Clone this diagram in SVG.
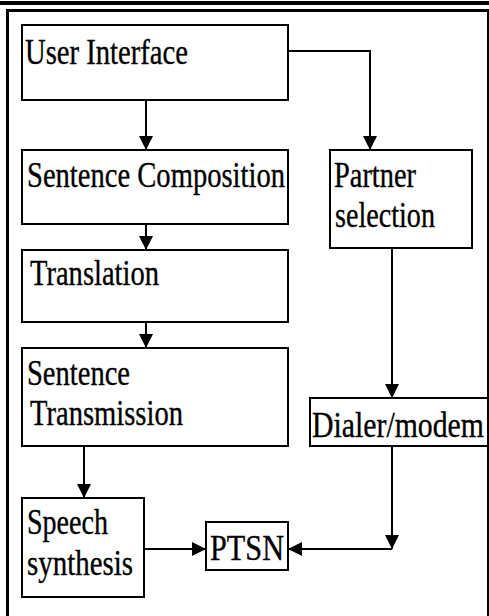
<svg xmlns="http://www.w3.org/2000/svg" width="489" height="616" viewBox="0 0 489 616">
  <style>
    .box { fill: #fff; stroke: #000; stroke-width: 2; }
    .lbl { font-family: 'Liberation Serif', 'Times New Roman', Times, serif; font-size: 36px; fill: #000; stroke: #000; stroke-width: 0.35; }
    .wire { fill: none; stroke: #000; stroke-width: 2; }
  </style>
  <defs>
    <marker id="arrow" markerUnits="userSpaceOnUse" markerWidth="15" markerHeight="14" refX="14" refY="7" orient="auto">
      <path d="M0,0 L14,7 L0,14 z" fill="#000"/>
    </marker>
  </defs>

  <rect width="489" height="616" fill="#fff"/>

  <!-- page frame -->
  <g id="frame" fill="#000">
    <rect x="0" y="1" width="489" height="4"/>
    <rect x="6" y="9" width="483" height="3"/>
    <rect x="6" y="9" width="3" height="607"/>
    <rect x="487" y="9" width="2" height="607"/>
  </g>

  <g id="connectors">
    <path class="wire" d="M146,100 V150" marker-end="url(#arrow)"/>
    <path class="wire" d="M288,51 H370 V150" marker-end="url(#arrow)"/>
    <path class="wire" d="M146,224 V250" marker-end="url(#arrow)"/>
    <path class="wire" d="M146,322 V348" marker-end="url(#arrow)"/>
    <path class="wire" d="M392,248 V398" marker-end="url(#arrow)"/>
    <path class="wire" d="M84,446 V498" marker-end="url(#arrow)"/>
    <path class="wire" d="M144,549 H206" marker-end="url(#arrow)"/>
    <path class="wire" d="M392,446 V549" marker-end="url(#arrow)"/>
    <path class="wire" d="M392,549 H288" marker-end="url(#arrow)"/>
  </g>

  <g id="user-interface">
    <rect class="box" x="22" y="25" width="266" height="75"/>
    <text class="lbl" x="25" y="64" textLength="163" lengthAdjust="spacingAndGlyphs">User Interface</text>
  </g>

  <g id="sentence-composition">
    <rect class="box" x="22" y="150" width="266" height="74"/>
    <text class="lbl" x="27" y="187" textLength="258" lengthAdjust="spacingAndGlyphs">Sentence Composition</text>
  </g>

  <g id="partner-selection">
    <rect class="box" x="330" y="150" width="142" height="98"/>
    <text class="lbl" x="334" y="187" textLength="82" lengthAdjust="spacingAndGlyphs">Partner</text>
    <text class="lbl" x="335" y="227" textLength="100" lengthAdjust="spacingAndGlyphs">selection</text>
  </g>

  <g id="translation">
    <rect class="box" x="22" y="250" width="266" height="72"/>
    <text class="lbl" x="30" y="285" textLength="129" lengthAdjust="spacingAndGlyphs">Translation</text>
  </g>

  <g id="sentence-transmission">
    <rect class="box" x="22" y="348" width="266" height="98"/>
    <text class="lbl" x="27" y="385" textLength="103" lengthAdjust="spacingAndGlyphs">Sentence</text>
    <text class="lbl" x="30" y="425" textLength="153" lengthAdjust="spacingAndGlyphs">Transmission</text>
  </g>

  <g id="dialer-modem">
    <rect class="box" x="310" y="398" width="178" height="48"/>
    <text class="lbl" x="312" y="437" textLength="172" lengthAdjust="spacingAndGlyphs">Dialer/modem</text>
  </g>

  <g id="speech-synthesis">
    <rect class="box" x="22" y="498" width="122" height="99"/>
    <text class="lbl" x="27" y="534" textLength="81" lengthAdjust="spacingAndGlyphs">Speech</text>
    <text class="lbl" x="27" y="575" textLength="106" lengthAdjust="spacingAndGlyphs">synthesis</text>
  </g>

  <g id="ptsn">
    <rect class="box" x="206" y="522" width="82" height="48"/>
    <text class="lbl" x="210" y="560" textLength="74" lengthAdjust="spacingAndGlyphs">PTSN</text>
  </g>
</svg>
